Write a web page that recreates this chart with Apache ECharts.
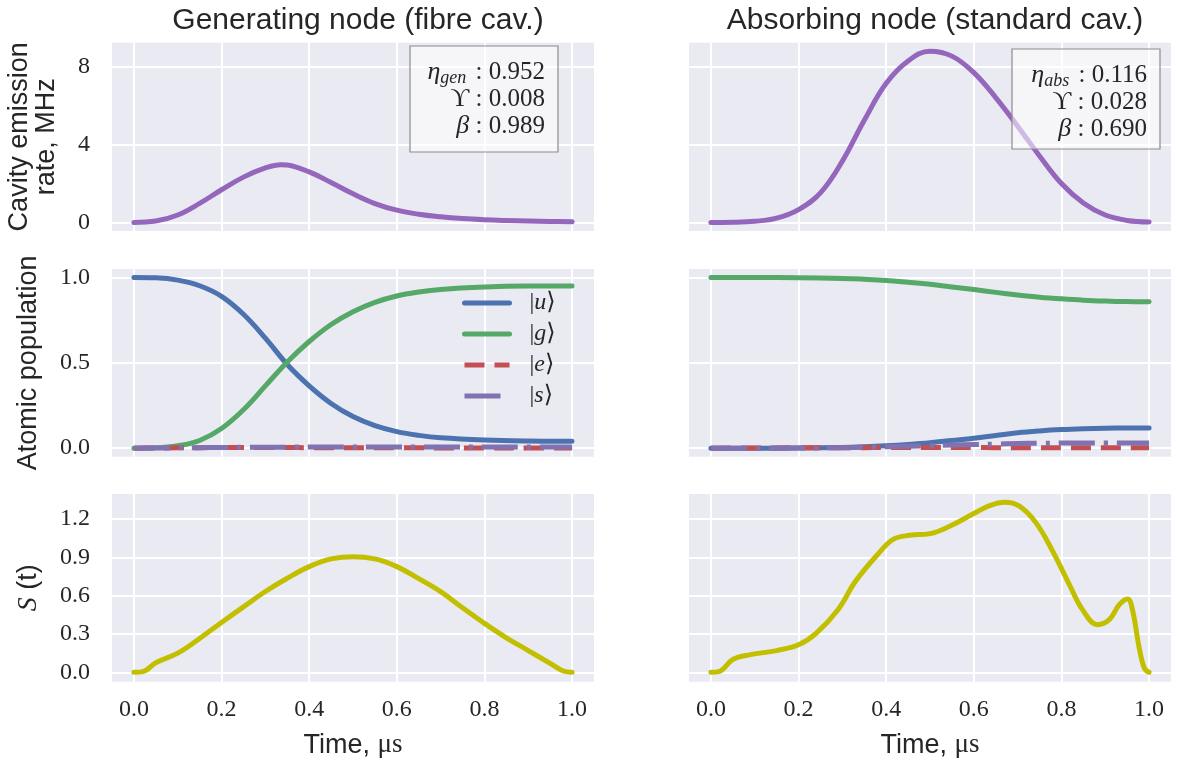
<!DOCTYPE html>
<html><head><meta charset="utf-8">
<script src="https://cdn.jsdelivr.net/npm/echarts@6/dist/echarts.min.js"></script>
<style>html,body{margin:0;padding:0;background:#fff}#c{width:1179px;height:771px}</style>
</head><body><div id="c"></div>
<script>
// ---------- data ----------
const xTicks = [0, 0.2, 0.4, 0.6, 0.8, 1.0];
const yTicksEmission = [0, 4, 8];
const yTicksPop = [0, 0.5, 1.0];
const yTicksS = [0, 0.3, 0.6, 0.9, 1.2];

const titles = ['Generating node (fibre cav.)', 'Absorbing node (standard cav.)'];

// cavity emission rate (MHz)
const tEmitGen = [0, 0.05, 0.1, 0.15, 0.2, 0.25, 0.3, 0.335, 0.35, 0.4, 0.45, 0.5, 0.55, 0.6, 0.65, 0.7, 0.75, 0.8, 0.85, 0.9, 0.95, 1.0];
const emitGen  = [0, 0.07, 0.38, 0.98, 1.68, 2.33, 2.80, 2.97, 2.95, 2.60, 2.05, 1.47, 0.97, 0.63, 0.42, 0.29, 0.20, 0.14, 0.10, 0.07, 0.05, 0.03];
const tEmitAbs = [0, 0.05, 0.1, 0.15, 0.2, 0.25, 0.3, 0.35, 0.4, 0.45, 0.5, 0.55, 0.6, 0.65, 0.7, 0.75, 0.8, 0.85, 0.9, 0.95, 1.0];
const emitAbs  = [0, 0.01, 0.06, 0.22, 0.66, 1.52, 3.15, 5.25, 7.15, 8.30, 8.80, 8.55, 7.70, 6.42, 4.95, 3.42, 2.00, 1.00, 0.38, 0.10, 0.02];

// atomic populations, generating node
const tPopGen = [0, 0.05, 0.1, 0.15, 0.2, 0.25, 0.3, 0.35, 0.4, 0.45, 0.5, 0.55, 0.6, 0.65, 0.7, 0.8, 0.9, 1.0];
const uGen = [1.0, 0.998, 0.985, 0.952, 0.890, 0.785, 0.645, 0.490, 0.365, 0.262, 0.185, 0.132, 0.097, 0.075, 0.061, 0.048, 0.042, 0.040];
const gGen = [0, 0.002, 0.014, 0.045, 0.115, 0.225, 0.365, 0.505, 0.625, 0.725, 0.800, 0.855, 0.892, 0.915, 0.930, 0.944, 0.950, 0.951];
const eGen = [0, 0.001, 0.002, 0.003, 0.004, 0.004, 0.004, 0.004, 0.003, 0.003, 0.002, 0.002, 0.002, 0.002, 0.001, 0.001, 0.001, 0.001];
const sGen = [0, 0.001, 0.002, 0.003, 0.004, 0.005, 0.006, 0.006, 0.007, 0.007, 0.007, 0.007, 0.007, 0.007, 0.007, 0.007, 0.007, 0.007];

// atomic populations, absorbing node
const tPopAbs = [0, 0.1, 0.2, 0.3, 0.35, 0.4, 0.45, 0.5, 0.55, 0.6, 0.65, 0.7, 0.75, 0.8, 0.85, 0.9, 0.95, 1.0];
const uAbs = [0, 0, 0.001, 0.004, 0.008, 0.014, 0.022, 0.032, 0.045, 0.058, 0.074, 0.090, 0.101, 0.109, 0.114, 0.117, 0.118, 0.118];
const gAbs = [1.0, 1.0, 0.999, 0.995, 0.990, 0.983, 0.972, 0.960, 0.945, 0.930, 0.913, 0.898, 0.885, 0.875, 0.867, 0.862, 0.859, 0.858];
const eAbs = [0, 0.001, 0.002, 0.003, 0.003, 0.004, 0.004, 0.004, 0.004, 0.004, 0.003, 0.003, 0.003, 0.002, 0.002, 0.002, 0.002, 0.002];
const sAbs = [0, 0, 0.001, 0.003, 0.005, 0.008, 0.011, 0.014, 0.018, 0.021, 0.024, 0.027, 0.029, 0.030, 0.031, 0.031, 0.031, 0.031];

// S(t)
const tSGen = [0, 0.02, 0.05, 0.1, 0.15, 0.2, 0.25, 0.3, 0.35, 0.4, 0.45, 0.5, 0.55, 0.6, 0.65, 0.7, 0.75, 0.8, 0.85, 0.9, 0.95, 0.98, 1.0];
const SGen  = [0, 0.005, 0.075, 0.15, 0.265, 0.39, 0.512, 0.632, 0.736, 0.827, 0.887, 0.905, 0.887, 0.827, 0.733, 0.631, 0.505, 0.383, 0.27, 0.17, 0.07, 0.01, 0];
const tSAbs = [0, 0.02, 0.05, 0.09, 0.15, 0.2, 0.24, 0.29, 0.33, 0.38, 0.416, 0.454, 0.5, 0.545, 0.6, 0.636, 0.67, 0.704, 0.742, 0.78, 0.818, 0.848, 0.882, 0.909, 0.932, 0.951, 0.962, 0.977, 0.989, 1.0];
const SAbs  = [0, 0.008, 0.10, 0.138, 0.17, 0.215, 0.305, 0.49, 0.712, 0.92, 1.04, 1.072, 1.085, 1.143, 1.242, 1.304, 1.33, 1.30, 1.169, 0.947, 0.686, 0.49, 0.373, 0.412, 0.53, 0.574, 0.49, 0.20, 0.034, 0];

const statsGen = [['η', 'gen', '0.952'], ['ϒ', '', '0.008'], ['β', '', '0.989']];
const statsAbs = [['η', 'abs', '0.116'], ['ϒ', '', '0.028'], ['β', '', '0.690']];

// ---------- layout / style ----------
const SANS = 'Liberation Sans, Arial, Helvetica, sans-serif';
const SERIF = 'Liberation Serif, Times New Roman, DejaVu Serif, serif';
const TXT = '#262626';
const cols = [{ left: 112, width: 482 }, { left: 689, width: 482 }];
const rows = [{ top: 42.7, height: 188.3 }, { top: 269, height: 187.7 }, { top: 494, height: 187.7 }];
const yRanges = [[-0.44, 9.24], [-0.05, 1.05], [-0.0735, 1.395]];
const yTickSets = [yTicksEmission, yTicksPop, yTicksS];
const yFmt = [v => String(Math.round(v)), v => v.toFixed(1), v => v.toFixed(1)];
const yNames = ['Cavity emission\nrate, MHz', 'Atomic population', '{s|S} (t)'];
const yNameGaps = [52, 70, 70];
const C = { emit: '#9467bd', u: '#4c72b0', g: '#55a868', e: '#c44e52', s: '#8172b2', S: '#c2bf00' };

const grids = [], xAxes = [], yAxes = [];
for (let r = 0; r < 3; r++) {
  for (let c = 0; c < 2; c++) {
    const i = r * 2 + c;
    grids.push({ left: cols[c].left, width: cols[c].width, top: rows[r].top, height: rows[r].height,
      show: true, backgroundColor: '#eaeaf2', borderWidth: 0 });
    xAxes.push({ type: 'value', gridIndex: i, min: -0.05, max: 1.05,
      axisLine: { show: false }, axisTick: { show: false, customValues: xTicks },
      axisLabel: { show: r === 2, customValues: xTicks, formatter: v => v.toFixed(1),
        fontFamily: SERIF, fontSize: 24, color: TXT, margin: 16 },
      splitLine: { show: true, lineStyle: { color: '#ffffff', width: 2 } },
      name: r === 2 ? 'Time, {m|μs}' : '', nameLocation: 'middle', nameGap: 50,
      nameTextStyle: { fontFamily: SANS, fontSize: 27, color: TXT,
        rich: { m: { fontFamily: SERIF, fontSize: 27, color: TXT } } } });
    yAxes.push({ type: 'value', gridIndex: i, min: yRanges[r][0], max: yRanges[r][1],
      axisLine: { show: false }, axisTick: { show: false, customValues: yTickSets[r] },
      axisLabel: { show: c === 0, customValues: yTickSets[r], formatter: yFmt[r],
        fontFamily: SERIF, fontSize: 24, color: TXT, margin: 22 },
      splitLine: { show: true, lineStyle: { color: '#ffffff', width: 2 } },
      name: c === 0 ? yNames[r] : '', nameLocation: 'middle', nameGap: yNameGaps[r], nameRotate: 90,
      nameTextStyle: { fontFamily: SANS, fontSize: 27, color: TXT, lineHeight: 27,
        rich: { s: { fontFamily: SERIF, fontStyle: 'italic', fontSize: 28, color: TXT } } } });
  }
}

const pairs = (t, v) => t.map((x, k) => [x, v[k]]);
function line(name, idx, t, v, color, type) {
  return { type: 'line', name, xAxisIndex: idx, yAxisIndex: idx, data: pairs(t, v),
    showSymbol: false, symbol: 'none', smooth: 0.4, smoothConstraint: false, animation: false,
    lineStyle: { color, width: 5, type: type || 'solid', cap: type ? 'butt' : 'round', join: 'round' },
    itemStyle: { color } };
}
const DASH = [20, 10], DASHDOT = [36, 9, 4, 9];
const series = [
  line('emitGen', 0, tEmitGen, emitGen, C.emit),
  line('emitAbs', 1, tEmitAbs, emitAbs, C.emit),
  line('u', 2, tPopGen, uGen, C.u),
  line('g', 2, tPopGen, gGen, C.g),
  line('e', 2, tPopGen, eGen, C.e, DASH),
  line('s', 2, tPopGen, sGen, C.s, DASHDOT),
  line('u', 3, tPopAbs, uAbs, C.u),
  line('g', 3, tPopAbs, gAbs, C.g),
  line('e', 3, tPopAbs, eAbs, C.e, DASH),
  line('s', 3, tPopAbs, sAbs, C.s, DASHDOT),
  line('SGen', 4, tSGen, SGen, C.S),
  line('SAbs', 5, tSAbs, SAbs, C.S)
];

function statBox(stats, x, y, w, h) {
  const text = stats.map(s => (s[0] === 'ϒ' ? `{gu|${s[0]}}` : `{gi|${s[0]}}`) +
    (s[1] ? `{sub|${s[1]}}` : '') + ` : ${s[2]}`).join('\n');
  return [
    { type: 'rect', z: 100, shape: { x, y, width: w, height: h },
      style: { fill: 'rgba(255,255,255,0.55)', stroke: '#8c8c8c', lineWidth: 1.2 } },
    { type: 'text', z: 101, x: x + w - 13, y: y + 13,
      style: { text, align: 'right', verticalAlign: 'top', fill: TXT,
        font: `25px ${SERIF}`, lineHeight: 27,
        rich: { gi: { fontFamily: SERIF, fontStyle: 'italic', fontSize: 26, lineHeight: 27 },
                gu: { fontFamily: SERIF, fontSize: 26, lineHeight: 27 },
                sub: { fontFamily: SERIF, fontStyle: 'italic', fontSize: 18, lineHeight: 14, padding: [12, 3, 0, 0] } } } }
  ];
}

const option = {
  backgroundColor: '#ffffff',
  animation: false,
  title: titles.map((t, c) => ({ text: t, left: cols[c].left + cols[c].width / 2, top: 1, textAlign: 'center',
    textStyle: { fontFamily: SANS, fontSize: 30, fontWeight: 'normal', color: TXT } })),
  grid: grids, xAxis: xAxes, yAxis: yAxes, series,
  legend: { data: ['u', 'g', 'e', 's'], left: 457, top: 286, orient: 'vertical', selectedMode: false,
    itemWidth: 45, itemHeight: 14, itemGap: 7,
    lineStyle: { width: 5 }, itemStyle: { opacity: 0, borderWidth: 0 },
    formatter: n => `{sp|}|{i|${n}}⟩`,
    textStyle: { fontFamily: SERIF, fontSize: 24, color: TXT, lineHeight: 24,
      rich: { i: { fontFamily: SERIF, fontStyle: 'italic', fontSize: 24, color: TXT }, sp: { width: 15 } } } },
  graphic: [...statBox(statsGen, 410, 46, 148, 106), ...statBox(statsAbs, 1012, 49, 148, 100)]
};
const chart = echarts.init(document.getElementById('c'), null, { renderer: 'canvas' });
chart.setOption(option);
</script></body></html>
